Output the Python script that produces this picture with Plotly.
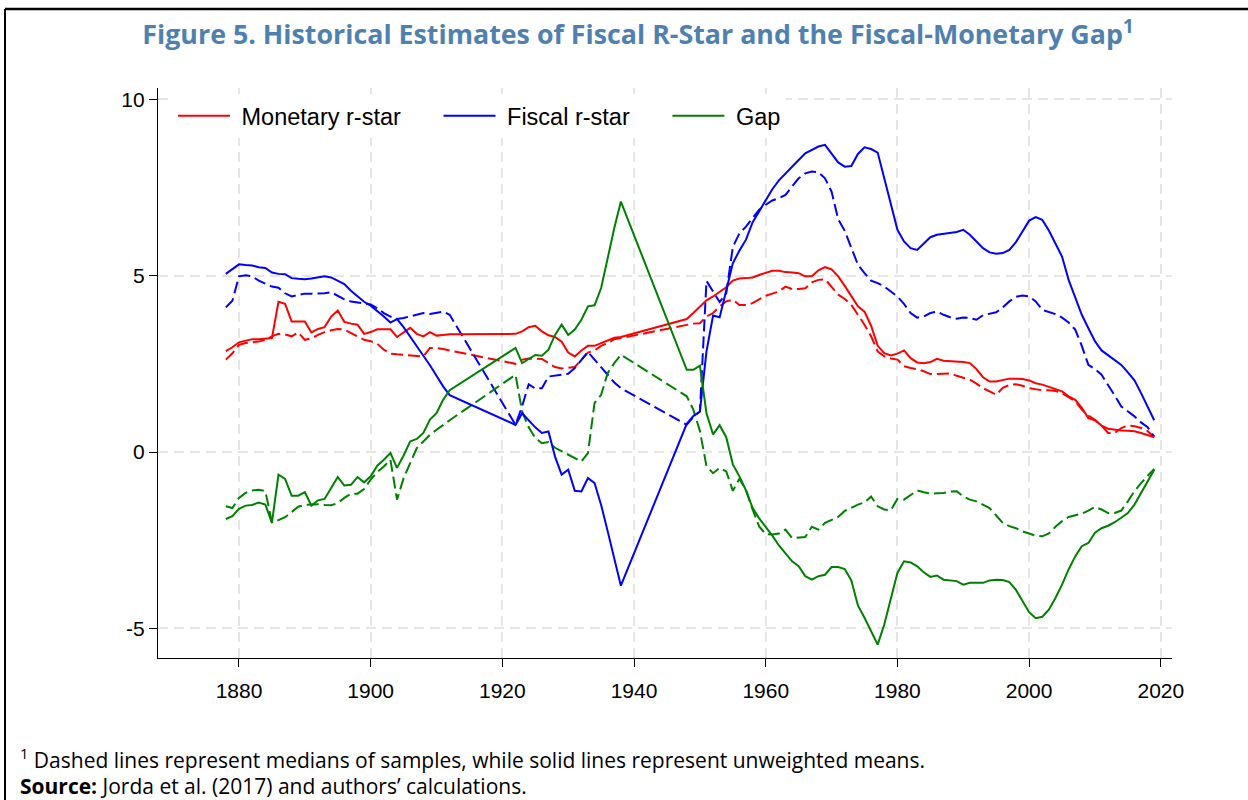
import plotly.graph_objects as go

# ---- data ----
years = list(range(1878, 1913)) + list(range(1922, 1939)) + list(range(1948, 2020))

monetary_mean = [
    2.86, 2.97, 3.11, 3.16, 3.20, 3.20, 3.21, 3.23, 4.26, 4.20, 3.70, 3.69, 3.70, 3.39, 3.49, 3.54, 3.84, 4.01,
    3.69, 3.64, 3.61, 3.35, 3.40, 3.48, 3.49, 3.48, 3.26, 3.39, 3.52, 3.35, 3.28, 3.40, 3.30, 3.32, 3.34,
    3.35, 3.42, 3.54, 3.58, 3.42, 3.31, 3.26, 3.13, 2.82, 2.71, 2.88, 3.01, 3.01, 3.09, 3.18, 3.24, 3.26,
    3.77, 3.94, 4.13, 4.30, 4.41, 4.55, 4.67, 4.86, 4.92, 4.93, 4.95, 5.02, 5.09, 5.14, 5.14, 5.10, 5.09, 5.07,
    4.98, 4.98, 5.15, 5.24, 5.18, 4.98, 4.71, 4.41, 4.13, 3.98, 3.58, 3.01, 2.80, 2.74, 2.79, 2.88, 2.66, 2.54,
    2.52, 2.55, 2.64, 2.59, 2.58, 2.57, 2.55, 2.52, 2.35, 2.12, 2.00, 2.00, 2.04, 2.08, 2.08, 2.07, 2.03, 1.95,
    1.91, 1.84, 1.78, 1.72, 1.58, 1.48, 1.25, 0.96, 0.90, 0.75, 0.66, 0.63, 0.61, 0.60, 0.59, 0.54, 0.49, 0.42]

monetary_median = [
    2.62, 2.80, 3.04, 3.09, 3.11, 3.13, 3.18, 3.28, 3.35, 3.33, 3.28, 3.39, 3.18, 3.22, 3.32, 3.40, 3.45, 3.49,
    3.47, 3.37, 3.28, 3.18, 3.14, 3.07, 2.90, 2.79, 2.77, 2.75, 2.74, 2.73, 2.71, 2.95, 2.95, 2.92, 2.88,
    2.50, 2.62, 2.65, 2.65, 2.64, 2.52, 2.41, 2.37, 2.38, 2.41, 2.62, 2.82, 2.88, 3.01, 3.09, 3.20, 3.23,
    3.62, 3.64, 3.65, 3.84, 3.94, 4.13, 4.27, 4.32, 4.17, 4.17, 4.22, 4.33, 4.43, 4.49, 4.55, 4.69, 4.62, 4.62,
    4.64, 4.81, 4.88, 4.90, 4.69, 4.46, 4.34, 4.17, 3.89, 3.61, 3.28, 2.85, 2.71, 2.65, 2.62, 2.43, 2.38, 2.35,
    2.29, 2.21, 2.21, 2.22, 2.23, 2.16, 2.10, 2.05, 1.94, 1.81, 1.72, 1.62, 1.82, 1.90, 1.92, 1.88, 1.81, 1.78,
    1.75, 1.75, 1.73, 1.67, 1.55, 1.44, 1.20, 1.03, 0.91, 0.75, 0.54, 0.54, 0.68, 0.75, 0.73, 0.68, 0.59, 0.42]

fiscal_mean = [
    5.05, 5.18, 5.32, 5.30, 5.29, 5.24, 5.22, 5.09, 5.05, 5.04, 4.93, 4.91, 4.90, 4.92, 4.95, 4.98, 4.95, 4.86,
    4.76, 4.57, 4.41, 4.26, 4.15, 4.00, 3.84, 3.67, 3.77, 3.54, 3.28, 3.01, 2.73, 2.46, 2.14, 1.86, 1.61,
    0.77, 1.10, 0.90, 0.70, 0.54, 0.58, -0.13, -0.64, -0.50, -1.10, -1.12, -0.74, -0.88, -1.50, -2.25, -3.00, -3.79,
    0.80, 1.02, 1.15, 2.85, 3.87, 3.82, 4.58, 5.35, 5.71, 6.02, 6.51, 6.82, 7.15, 7.45, 7.70, 7.90, 8.11, 8.28,
    8.47, 8.56, 8.66, 8.71, 8.47, 8.21, 8.09, 8.11, 8.45, 8.64, 8.59, 8.49, 7.76, 7.03, 6.30, 5.97, 5.78, 5.73,
    5.90, 6.09, 6.16, 6.18, 6.20, 6.24, 6.30, 6.16, 5.97, 5.78, 5.66, 5.62, 5.64, 5.73, 5.95, 6.25, 6.56, 6.66,
    6.58, 6.28, 5.92, 5.54, 4.88, 4.36, 3.89, 3.51, 3.14, 2.88, 2.74, 2.62, 2.47, 2.26, 2.03, 1.67, 1.29, 0.90]

fiscal_median = [
    4.10, 4.29, 4.98, 5.01, 4.98, 4.86, 4.77, 4.69, 4.66, 4.50, 4.41, 4.46, 4.49, 4.49, 4.49, 4.50, 4.53, 4.43,
    4.33, 4.27, 4.24, 4.22, 4.18, 4.08, 3.94, 3.84, 3.77, 3.80, 3.84, 3.89, 3.94, 3.91, 3.94, 3.98, 3.89,
    0.77, 1.30, 1.92, 1.80, 1.81, 2.14, 2.16, 2.19, 2.22, 2.38, 2.62, 2.84, 2.62, 2.41, 2.18, 1.97, 1.81,
    0.77, 0.99, 1.15, 4.85, 4.55, 4.25, 4.50, 5.81, 6.20, 6.39, 6.63, 6.87, 7.01, 7.13, 7.20, 7.29, 7.53, 7.76,
    7.90, 7.95, 7.93, 7.76, 7.38, 6.60, 6.27, 5.78, 5.31, 5.07, 4.86, 4.79, 4.69, 4.55, 4.41, 4.20, 3.94, 3.81,
    3.84, 3.94, 3.98, 3.89, 3.82, 3.78, 3.81, 3.80, 3.75, 3.88, 3.92, 3.96, 4.10, 4.27, 4.40, 4.44, 4.41, 4.27,
    4.03, 3.98, 3.91, 3.81, 3.67, 3.47, 3.01, 2.47, 2.35, 2.19, 1.91, 1.60, 1.29, 1.15, 1.01, 0.84, 0.70, 0.44]

gap_mean = [
    -1.90, -1.82, -1.61, -1.52, -1.50, -1.43, -1.49, -2.01, -0.64, -0.76, -1.24, -1.24, -1.14, -1.52, -1.37, -1.33, -1.02, -0.71,
    -0.95, -0.93, -0.71, -0.86, -0.69, -0.39, -0.22, -0.03, -0.45, -0.10, 0.30, 0.37, 0.54, 0.92, 1.10, 1.48, 1.75,
    2.95, 2.52, 2.63, 2.75, 2.73, 2.90, 3.32, 3.61, 3.32, 3.47, 3.75, 4.13, 4.16, 4.65, 5.50, 6.35, 7.10,
    2.33, 2.33, 2.45, 1.10, 0.50, 0.76, 0.42, -0.35, -0.69, -1.09, -1.58, -1.88, -2.12, -2.37, -2.65, -2.88, -3.10, -3.24,
    -3.52, -3.62, -3.52, -3.48, -3.26, -3.26, -3.32, -3.64, -4.35, -4.70, -5.08, -5.46, -4.89, -4.18, -3.43, -3.10, -3.13, -3.24,
    -3.41, -3.54, -3.50, -3.62, -3.64, -3.66, -3.76, -3.71, -3.71, -3.71, -3.64, -3.62, -3.63, -3.69, -3.91, -4.23, -4.54, -4.71,
    -4.67, -4.47, -4.14, -3.76, -3.33, -2.96, -2.67, -2.58, -2.29, -2.16, -2.09, -1.99, -1.87, -1.73, -1.49, -1.16, -0.83, -0.50]

gap_median = [
    -1.54, -1.59, -1.30, -1.16, -1.09, -1.07, -1.11, -1.99, -1.93, -1.85, -1.70, -1.55, -1.50, -1.48, -1.48, -1.50, -1.51, -1.45,
    -1.30, -1.18, -1.18, -1.05, -0.78, -0.57, -0.41, -0.22, -1.35, -0.74, -0.31, 0.11, 0.30, 0.49, 0.63, 0.77, 0.90,
    2.19, 1.15, 0.70, 0.40, 0.25, 0.28, 0.12, 0.02, -0.08, -0.17, -0.27, -0.03, 1.39, 1.62, 2.24, 2.52, 2.76,
    1.58, 1.20, 0.60, -0.40, -0.60, -0.45, -0.55, -1.10, -0.76, -1.08, -1.63, -2.11, -2.33, -2.34, -2.31, -2.20, -2.44, -2.43,
    -2.41, -2.12, -2.20, -2.01, -1.92, -1.84, -1.67, -1.57, -1.49, -1.43, -1.26, -1.54, -1.63, -1.65, -1.33, -1.35, -1.21, -1.09,
    -1.14, -1.18, -1.17, -1.16, -1.12, -1.11, -1.26, -1.35, -1.40, -1.49, -1.59, -1.80, -2.01, -2.10, -2.16, -2.25, -2.31, -2.37,
    -2.39, -2.31, -2.12, -1.96, -1.84, -1.80, -1.75, -1.66, -1.56, -1.63, -1.73, -1.73, -1.66, -1.40, -1.11, -0.88, -0.69, -0.48]

series_names = ["Monetary r-star", "Fiscal r-star", "Gap"]
series_colors = ["#FF0000", "#0000FF", "#008000"]
x_ticks = [1880, 1900, 1920, 1940, 1960, 1980, 2000, 2020]
y_ticks = [-5, 0, 5, 10]
y_tick_labels = ["-5", "0", "5", "10"]

title_text = "Figure 5. Historical Estimates of Fiscal R-Star and the Fiscal-Monetary Gap<sup>1</sup>"
note_text = "<sup>1</sup> Dashed lines represent medians of samples, while solid lines represent unweighted means."
source_text = "<b>Source:</b> Jorda et al. (2017) and authors\u2019 calculations."

# ---- geometry ----
W, H = 1248, 800
L, R, T, B = 158, 1172, 88, 658


def px2x(px):
    return (px - L) / (R - L)


def px2y(py):
    return (B - py) / (B - T)


NB = "\u00a0"

fig = go.Figure()

means = [monetary_mean, fiscal_mean, gap_mean]
medians = [monetary_median, fiscal_median, gap_median]

for name, col, med in zip(series_names, series_colors, medians):
    fig.add_trace(go.Scatter(x=years, y=med, mode="lines", showlegend=False,
                             line=dict(color=col, width=2, dash="12px,5px"),
                             hoverinfo="skip"))
for i, (name, col, mean) in enumerate(zip(series_names, series_colors, means)):
    label = NB + name + (NB * 5 if i < len(series_names) - 1 else "")
    fig.add_trace(go.Scatter(x=years, y=mean, mode="lines", name=label,
                             line=dict(color=col, width=2)))

grid = dict(showgrid=True, gridcolor="#E6E6E6", gridwidth=2, griddash="10px,6px")

fig.update_xaxes(range=[1867.7, 2021.7], tickvals=x_ticks, ticks="outside", ticklen=8,
                 tickwidth=1.3, tickcolor="black", showline=True, linecolor="black", linewidth=1.3,
                 zeroline=False, tickfont=dict(family="Liberation Sans, Arial", size=21, color="black"),
                 ticklabelstandoff=6, **grid)
fig.update_yaxes(range=[-5.84, 10.32], tickvals=y_ticks, ticktext=y_tick_labels, ticks="outside",
                 ticklen=8, tickwidth=1.3, tickcolor="black", showline=True, linecolor="black",
                 linewidth=1.3, zeroline=False,
                 tickfont=dict(family="Liberation Sans, Arial", size=21, color="black"), **grid)

fig.update_layout(
    width=W, height=H,
    margin=dict(l=L, r=W - R, t=T, b=H - B, autoexpand=False),
    paper_bgcolor="white", plot_bgcolor="white",
    title=dict(text=title_text, x=638 / W, xanchor="center", y=1 - 35 / H, yanchor="middle",
               font=dict(family="Open Sans", size=26.8, color="#4F81B0", weight="bold")),
    legend=dict(orientation="h", x=px2x(173), xanchor="left", y=px2y(94), yanchor="top",
                bgcolor="white", borderwidth=0, itemwidth=52,
                font=dict(family="Liberation Sans, Arial", size=23.5, color="black")),
    showlegend=True,
)

fig.add_annotation(text=note_text, xref="paper", yref="paper", x=px2x(18), y=px2y(758),
                   xanchor="left", yanchor="middle", showarrow=False,
                   font=dict(family="Open Sans", size=21, color="black"))
fig.add_annotation(text=source_text, xref="paper", yref="paper", x=px2x(18), y=px2y(786),
                   xanchor="left", yanchor="middle", showarrow=False,
                   font=dict(family="Open Sans", size=21, color="black"))

# frame lines (top and left)
fig.add_shape(type="line", xref="paper", yref="paper", x0=px2x(5), x1=px2x(W + 5),
              y0=px2y(9), y1=px2y(9), line=dict(color="black", width=2.5))
fig.add_shape(type="line", xref="paper", yref="paper", x0=px2x(5), x1=px2x(5),
              y0=px2y(9), y1=px2y(H + 5), line=dict(color="black", width=2))

fig.write_html("out.html", config={"displayModeBar": False},
               post_script="document.body.style.margin='0px';")
